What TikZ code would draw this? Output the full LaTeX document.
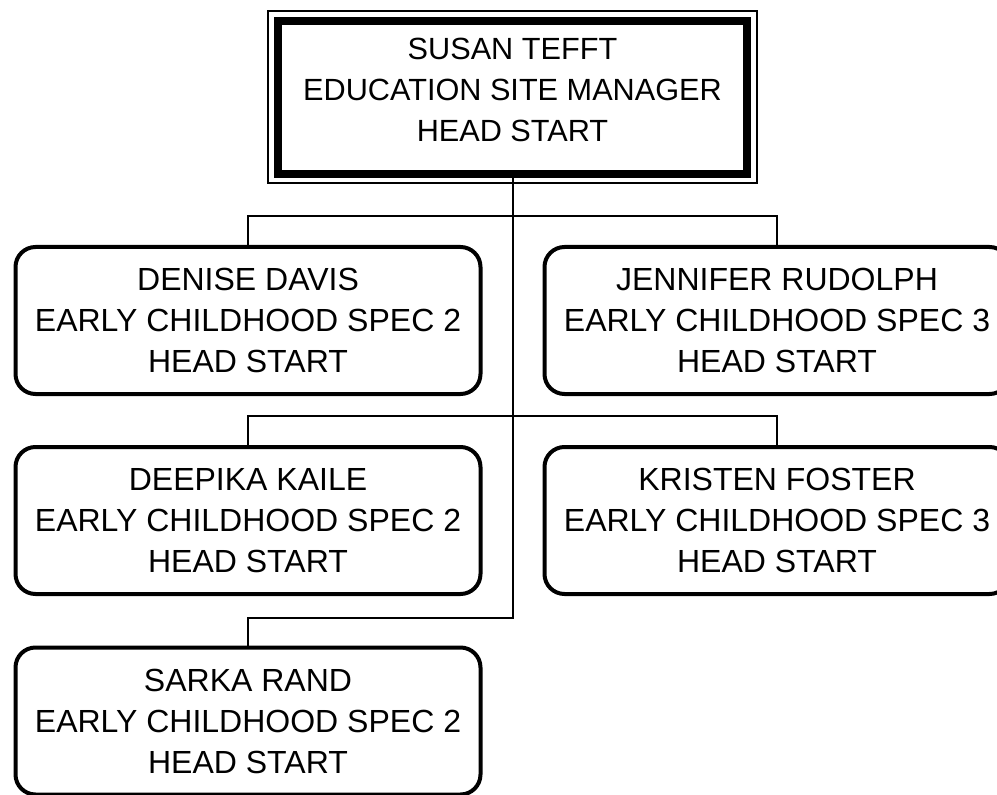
\documentclass[tikz,border=0pt]{standalone}
\usepackage{fontspec}
\setmainfont{Liberation Sans}
\usetikzlibrary{positioning}
\tikzset{
  chief/.style={draw, line width=6pt, minimum width=351.75pt, minimum height=114.75pt,
    align=center, outer sep=0pt, text depth=11.25pt,
    font=\fontsize{23pt}{30.75pt}\selectfont},
  staff/.style={draw, line width=3pt, rounded corners=15pt, minimum width=348.75pt,
    minimum height=110.25pt, align=center, outer sep=0pt,
    font=\fontsize{24pt}{30.75pt}\selectfont},
  link/.style={line width=1.5pt}
}
\begin{document}
\begin{tikzpicture}[x=0.75pt,y=-0.75pt]
\useasboundingbox (0,0) rectangle (997,795);
% manager
\node[chief] (susan) at (512.5,97.5) {SUSAN TEFFT\\EDUCATION SITE MANAGER\\HEAD START};
\draw[link] ([xshift=-7.5pt,yshift=7.5pt]susan.north west) rectangle ([xshift=7.5pt,yshift=-6.75pt]susan.south east);
% specialists
\node[staff] (denise) at (248,320.5) {DENISE DAVIS\\EARLY CHILDHOOD SPEC 2\\HEAD START};
\node[staff] (jennifer) at (777,320.5) {JENNIFER RUDOLPH\\EARLY CHILDHOOD SPEC 3\\HEAD START};
\node[staff] (deepika) at (248,520.5) {DEEPIKA KAILE\\EARLY CHILDHOOD SPEC 2\\HEAD START};
\node[staff] (kristen) at (777,520.5) {KRISTEN FOSTER\\EARLY CHILDHOOD SPEC 3\\HEAD START};
\node[staff] (sarka) at (248,721) {SARKA RAND\\EARLY CHILDHOOD SPEC 2\\HEAD START};
% lines
\coordinate (bus1) at (512.5,216);
\coordinate (bus2) at (512.5,416);
\coordinate (bus3) at (512.5,618);
\draw[link] (susan.south) -- (bus3) -| (sarka.north);
\draw[link] (denise.north) |- (bus1) -| (jennifer.north);
\draw[link] (deepika.north) |- (bus2) -| (kristen.north);
\end{tikzpicture}
\end{document}
